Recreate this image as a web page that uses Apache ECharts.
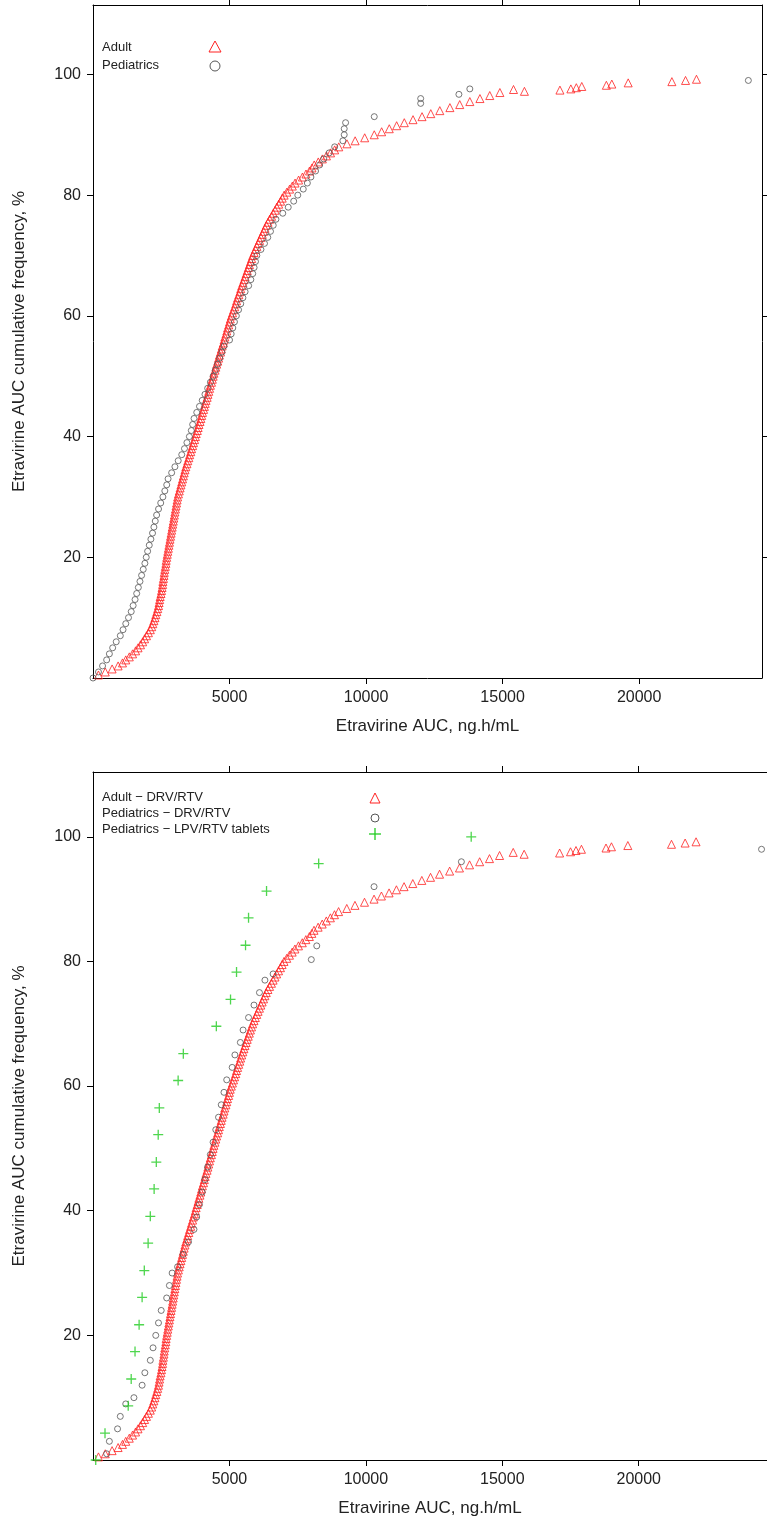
<!DOCTYPE html>
<html>
<head>
<meta charset="utf-8">
<script src="https://cdn.jsdelivr.net/npm/echarts@6/dist/echarts.min.js"></script>
</head>
<body style="margin:0">
<div id="chart" style="width:767px;height:1530px"></div>
<script>
// adult AUC values at 0.5% cumulative steps (0.5% .. 97%)
var adultAUC = [200,450,700,920,1080,1200,1330,1450,1560,1650,1740,1820,1890,1960,2030,2100,2150,2190,2230,2270,
  2300,2340,2370,2400,2420,2440,2460,2490,2510,2530,2550,2560,2580,2600,2610,2630,2650,2670,2680,2700,
  2720,2740,2760,2780,2800,2820,2840,2860,2880,2900,2920,2940,2960,2980,3000,3020,3040,3060,3080,3100,
  3130,3160,3190,3220,3250,3280,3310,3340,3370,3400,3440,3470,3510,3540,3580,3610,3650,3680,3720,3750,
  3780,3820,3850,3880,3920,3950,3980,4010,4050,4080,4110,4140,4180,4210,4240,4270,4300,4340,4370,4400,
  4430,4470,4500,4530,4570,4600,4630,4670,4700,4730,4770,4800,4830,4870,4900,4930,4970,5000,5030,5070,
  5110,5150,5190,5230,5260,5300,5340,5380,5410,5450,5490,5530,5570,5610,5650,5690,5730,5770,5810,5850,
  5900,5950,6000,6050,6100,6150,6200,6250,6300,6350,6410,6470,6540,6600,6670,6730,6800,6870,6930,7000,
  7100,7200,7300,7400,7530,7670,7800,7930,8020,8100,8250,8400,8550,8700,8850,9000,9300,9600,9950,10300,
  10570,10850,11120,11400,11720,12050,12370,12700,13070,13430,13800,14170,14530,14900,15400];
var adultTail = [[15800,97.2],[17100,97.4],[17500,97.6],[17700,97.8],[17900,98.0],[18800,98.2],[19000,98.4],
  [19600,98.6],[21200,98.8],[21700,99.0],[22100,99.2]];

// pediatrics (top panel) AUC at 1% steps (1% .. 92%)
var pedsAUC = [200,350,500,600,720,850,1000,1100,1200,1300,1400,1470,1540,1600,1660,1720,1780,1840,1900,1950,
  2000,2060,2120,2180,2230,2280,2330,2400,2480,2560,2630,2700,2750,2880,3000,3120,3250,3350,3440,3530,
  3600,3650,3700,3800,3900,4000,4100,4200,4300,4400,4480,4560,4640,4720,4800,5000,5060,5120,5180,5250,
  5330,5410,5490,5570,5700,5780,5850,5900,5950,6000,6150,6280,6400,6500,6600,6700,6950,7150,7350,7500,
  7700,7850,7980,8150,8300,8450,8650,8850,9150,9200,9200,9250];
var pedsTail = [[0,0],[10300,93],[12000,95.2],[12000,96],[13400,96.7],[13800,97.6],[24000,99]];

// pediatrics DRV/RTV (bottom panel) [AUC, %]
var pedsDRV = [[500,1],[600,3],[900,5],[1000,7],[1200,9],[1500,10],[1800,12],[1900,14],[2100,16],[2200,18],
  [2300,20],[2400,22],[2500,24],[2700,26],[2800,28],[2900,30],[3100,31],[3300,33],[3500,35],[3700,37],
  [3800,39],[3900,41],[4000,43],[4100,45],[4200,47],[4300,49],[4400,51],[4500,53],[4600,55],[4700,57],
  [4800,59],[4900,61],[5100,63],[5200,65],[5400,67],[5500,69],[5700,71],[5900,73],[6100,75],[6300,77],
  [6600,78],[8000,80.3],[8200,82.5],[10300,92],[13500,96],[24500,98]];

// pediatrics LPV/RTV tablets [AUC, %]
var pedsLPV = [[100,0],[440,4.3],[1290,8.7],[1400,13],[1540,17.4],[1690,21.7],[1800,26.1],[1880,30.4],
  [2020,34.8],[2100,39.1],[2240,43.5],[2320,47.8],[2390,52.2],[2430,56.5],[3120,60.9],[3310,65.2],
  [4520,69.6],[5040,73.9],[5260,78.3],[5590,82.6],[5700,87],[6360,91.3],[8270,95.7],[13860,100]];

var xTicks = [5000, 10000, 15000, 20000];
var yTicks = [20, 40, 60, 80, 100];

var adult = adultAUC.map(function (v, i) { return [v, (i + 1) * 0.5]; }).concat(adultTail);
var peds = pedsAUC.map(function (v, i) { return [v, i + 1]; }).concat(pedsTail);

var font = 'Liberation Sans';
var cross = 'path://M5,0L5,10M0,5L10,5';

function xAx(g, max, top) {
  return {
    gridIndex: g, type: 'value', min: 0, max: max, position: top ? 'top' : 'bottom',
    name: top ? '' : 'Etravirine AUC, ng.h/mL', nameLocation: 'middle', nameGap: 40,
    nameTextStyle: { fontFamily: font, fontSize: 17, color: '#222' },
    axisLine: { show: true, onZero: false, lineStyle: { color: '#000' } },
    axisTick: { show: true, customValues: xTicks, length: 6, lineStyle: { color: '#000' } },
    axisLabel: { show: !top, customValues: xTicks, formatter: function (v) { return String(v); },
      fontFamily: font, fontSize: 16, color: '#222', margin: 12 },
    splitLine: { show: false }
  };
}
function yAx(g, max, right) {
  return {
    gridIndex: g, type: 'value', min: 0, max: max, position: right ? 'right' : 'left',
    name: right ? '' : 'Etravirine AUC cumulative frequency, %', nameLocation: 'middle', nameGap: 65,
    nameTextStyle: { fontFamily: font, fontSize: 17, color: '#222' },
    axisLine: { show: true, onZero: false, lineStyle: { color: '#000' } },
    axisTick: { show: true, customValues: yTicks, length: 6, lineStyle: { color: '#000' } },
    axisLabel: { show: !right, customValues: yTicks, fontFamily: font, fontSize: 16, color: '#222', margin: 12 },
    splitLine: { show: false }
  };
}

var tri = { type: 'scatter', symbol: 'triangle', symbolSize: 8,
  itemStyle: { color: 'rgba(0,0,0,0)', borderColor: '#ff2020', borderWidth: 1 } };
var circ = { type: 'scatter', symbol: 'circle', symbolSize: 6,
  itemStyle: { color: 'rgba(0,0,0,0)', borderColor: '#555', borderWidth: 1 } };
var crs = { type: 'scatter', symbol: cross, symbolSize: 10,
  itemStyle: { color: 'none', borderColor: '#22cc22', borderWidth: 1.3 } };

function s(base, xi, yi, data, z) {
  return Object.assign({}, base, { xAxisIndex: xi, yAxisIndex: yi, data: data, z: z, silent: true });
}

var option = {
  animation: false,
  grid: [
    { left: 93, right: 5, top: 5, height: 673 },
    { left: 93, right: 0, top: 772, height: 688 }
  ],
  xAxis: [xAx(0, 24500, false), xAx(0, 24500, true), xAx(1, 24700, false), xAx(1, 24700, true)],
  yAxis: [yAx(0, 111.5, false), yAx(0, 111.5, true), yAx(1, 110.4, false), yAx(1, 110.4, true)],
  series: [
    s(circ, 0, 0, peds, 3),
    s(tri, 0, 0, adult, 2),
    s(tri, 2, 2, adult, 2),
    s(circ, 2, 2, pedsDRV, 3),
    s(crs, 2, 2, pedsLPV, 4)
  ],
  graphic: [
    { type: 'text', left: 102, top: 41, style: { text: 'Adult', fontFamily: font, fontSize: 13, fill: '#222' } },
    { type: 'text', left: 102, top: 59, style: { text: 'Pediatrics', fontFamily: font, fontSize: 13, fill: '#222' } },
    { type: 'polygon', shape: { points: [[215, 41], [209, 52], [221, 52]] }, style: { fill: 'none', stroke: '#ff2020', lineWidth: 1 } },
    { type: 'circle', shape: { cx: 215, cy: 66, r: 5 }, style: { fill: 'none', stroke: '#555', lineWidth: 1 } },
    { type: 'text', left: 102, top: 791, style: { text: 'Adult \u2212 DRV/RTV', fontFamily: font, fontSize: 13, fill: '#222' } },
    { type: 'text', left: 102, top: 807, style: { text: 'Pediatrics \u2212 DRV/RTV', fontFamily: font, fontSize: 13, fill: '#222' } },
    { type: 'text', left: 102, top: 823, style: { text: 'Pediatrics \u2212 LPV/RTV tablets', fontFamily: font, fontSize: 13, fill: '#222' } },
    { type: 'polygon', shape: { points: [[375, 793], [370, 803], [380, 803]] }, style: { fill: 'none', stroke: '#ff2020', lineWidth: 1 } },
    { type: 'circle', shape: { cx: 375, cy: 818, r: 4 }, style: { fill: 'none', stroke: '#555', lineWidth: 1 } },
    { type: 'polyline', shape: { points: [[369, 834], [381, 834]] }, style: { stroke: '#22cc22', lineWidth: 1.3 } },
    { type: 'polyline', shape: { points: [[375, 828], [375, 840]] }, style: { stroke: '#22cc22', lineWidth: 1.3 } }
  ]
};

var chart = echarts.init(document.getElementById('chart'));
chart.setOption(option);
</script>
</body>
</html>
